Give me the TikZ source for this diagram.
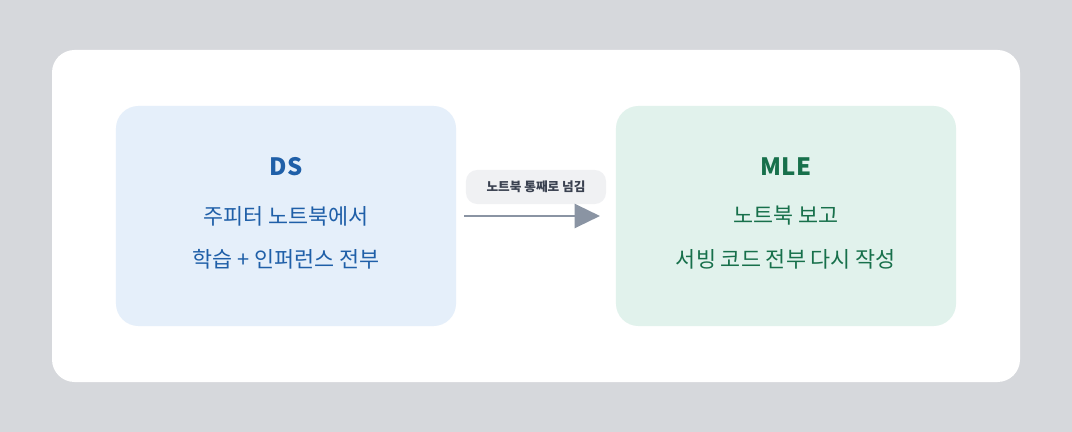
\documentclass[tikz,border=0pt]{standalone}
\usepackage{fontspec}
\setmainfont{Noto Sans CJK KR}
\usetikzlibrary{positioning, arrows.meta}
\definecolor{pagegray}{HTML}{D6D8DC}
\definecolor{dsfill}{HTML}{E5EFFA}
\definecolor{dstext}{HTML}{1F5FA8}
\definecolor{mlefill}{HTML}{E1F2EC}
\definecolor{mletext}{HTML}{17704B}
\definecolor{pillfill}{HTML}{F0F1F3}
\definecolor{pilltext}{HTML}{3A4150}
\definecolor{arrowgray}{HTML}{8A94A3}

\begin{document}
\begin{tikzpicture}[x=0.025cm, y=-0.025cm,
    role/.style={rectangle, rounded corners=16pt, minimum width=8.5cm, minimum height=5.5cm, inner sep=0pt},
    body/.style={font=\fontsize{15.5}{18}\selectfont, align=center},
    title/.style={font=\fontsize{17}{20}\selectfont\bfseries},
    pill/.style={rectangle, rounded corners=8pt, fill=pillfill, text=pilltext, minimum width=3.5cm, minimum height=0.85cm, font=\fontsize{9}{11}\selectfont\bfseries},
    arrow/.style={-{Triangle[length=18pt, width=17pt]}, line width=1.8pt, draw=arrowgray}
]
\fill[pagegray] (0,0) rectangle (1072,432);
\fill[white, rounded corners=16pt] (52,50) rectangle (1020,382);

\node[role, fill=dsfill] (ds) at (286,216) {};
\node[role, fill=mlefill] (mle) at (786,216) {};

\node[title, text=dstext] (dstitle) at (286,167) {DS};
\node[body, text=dstext] (dsl1) at (286,216) {주피터 노트북에서};
\node[body, text=dstext] (dsl2) at (286,259) {학습 + 인퍼런스 전부};

\node[title, text=mletext] (mletitle) at (786,167) {MLE};
\node[body, text=mletext] (mlel1) at (786,216) {노트북 보고};
\node[body, text=mletext] (mlel2) at (786,259) {서빙 코드 전부 다시 작성};

\node[pill] (handoff) at (536,187) {노트북 통째로 넘김};
\coordinate (from) at (464,216);
\coordinate (to) at (600,216);
\draw[arrow] (from) -- (to);
\end{tikzpicture}
\end{document}
